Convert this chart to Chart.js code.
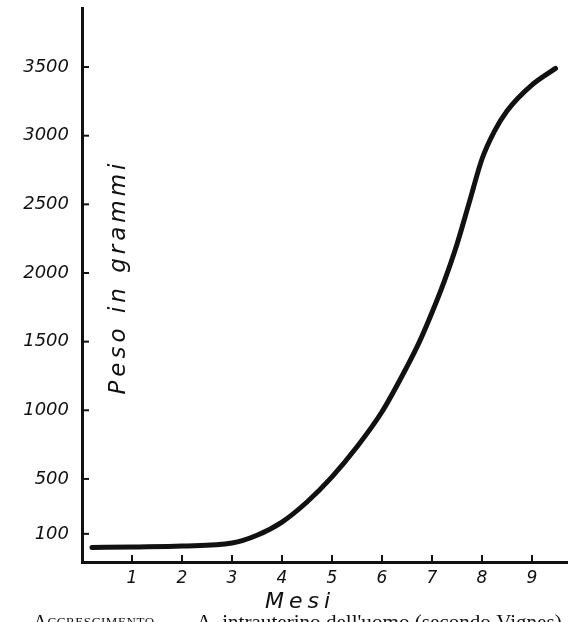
<!DOCTYPE html>
<html>
<head>
<meta charset="utf-8">
<script src="https://cdn.jsdelivr.net/npm/chart.js@4"></script>
<style>
  html, body { margin: 0; padding: 0; background: #fff; }
  #wrap { width: 571px; height: 622px; position: relative; }
</style>
</head>
<body>
<div id="wrap"><canvas id="c"></canvas></div>
<script>
// Dati (mesi / peso in grammi)
const mesi = [0.2, 1, 2, 3, 3.5, 4, 4.5, 5, 5.5, 6, 6.5, 6.75, 7, 7.25, 7.5, 7.75, 8, 8.25, 8.5, 9, 9.47];
const peso = [0, 5, 12, 33, 90, 186, 332, 515, 734, 989, 1318, 1500, 1712, 1945, 2210, 2520, 2830, 3033, 3180, 3370, 3490];
const xTicks = [1, 2, 3, 4, 5, 6, 7, 8, 9];
const yTicks = [100, 500, 1000, 1500, 2000, 2500, 3000, 3500];

const INK = '#111';
const FONT = '"DejaVu Sans", sans-serif';
const SERIF = '"Liberation Serif", serif';

// Tacche interne agli assi + testi (titoli e didascalia)
const decorPlugin = {
  id: 'decor',
  afterDraw(chart) {
    const { ctx, chartArea, scales } = chart;
    ctx.save();
    ctx.strokeStyle = INK;
    ctx.lineWidth = 2;
    yTicks.forEach(v => {
      const py = scales.y.getPixelForValue(v);
      ctx.beginPath();
      ctx.moveTo(chartArea.left, py);
      ctx.lineTo(chartArea.left + 7, py);
      ctx.stroke();
    });
    xTicks.forEach(v => {
      const px = scales.x.getPixelForValue(v);
      ctx.beginPath();
      ctx.moveTo(px, chartArea.bottom);
      ctx.lineTo(px, chartArea.bottom - 7);
      ctx.stroke();
    });

    ctx.fillStyle = INK;
    // titolo asse Y, dentro l'area del grafico
    ctx.save();
    ctx.translate(125, 277);
    ctx.rotate(-Math.PI / 2);
    ctx.font = 'italic 23px ' + FONT;
    ctx.letterSpacing = '4px';
    ctx.textAlign = 'center';
    ctx.fillText('Peso in grammi', 0, 0);
    ctx.restore();

    // titolo asse X
    ctx.font = 'italic 22px ' + FONT;
    ctx.letterSpacing = '5px';
    ctx.textAlign = 'center';
    ctx.fillText('Mesi', 300, 608);

    // didascalia (tagliata in basso)
    ctx.textAlign = 'left';
    const y = 629;
    ctx.letterSpacing = '0px';
    ctx.font = '20px ' + SERIF;
    ctx.fillText('A', 33, y);
    let x = 33 + ctx.measureText('A').width;
    ctx.font = '13px ' + SERIF;
    ctx.letterSpacing = '0.6px';
    ctx.fillText('CCRESCIMENTO.', x, y - 3);
    ctx.letterSpacing = '0px';
    ctx.font = '20px ' + SERIF;
    const rest = "— A. intrauterino dell'uomo (secondo Vignes).";
    const w = ctx.measureText(rest).width;
    const target = 567 - 170;
    ctx.save();
    ctx.translate(170, y);
    ctx.scale(target / w, 1);
    ctx.fillText(rest, 0, 0);
    ctx.restore();
    ctx.restore();
  }
};

new Chart(document.getElementById('c'), {
  type: 'line',
  data: {
    datasets: [{
      data: mesi.map((m, i) => ({ x: m, y: peso[i] })),
      borderColor: INK,
      borderWidth: 5,
      borderCapStyle: 'round',
      pointRadius: 0,
      cubicInterpolationMode: 'monotone',
      fill: false
    }]
  },
  options: {
    responsive: true,
    maintainAspectRatio: false,
    animation: false,
    layout: { padding: { top: 8, right: 4, left: 0, bottom: 0 } },
    plugins: { legend: { display: false }, tooltip: { enabled: false } },
    scales: {
      x: {
        type: 'linear',
        min: 0,
        max: 9.7,
        afterBuildTicks: s => { s.ticks = xTicks.map(v => ({ value: v })); },
        afterFit: s => { s.height = 60; s.paddingLeft = 0; s.paddingRight = 0; },
        grid: { display: false, drawTicks: false },
        border: { display: true, color: INK, width: 3 },
        ticks: {
          color: INK,
          padding: 6,
          font: { family: FONT, style: 'italic', size: 17 },
          callback: v => String(v)
        }
      },
      y: {
        type: 'linear',
        min: -105,
        max: 3930,
        afterBuildTicks: s => { s.ticks = yTicks.map(v => ({ value: v })); },
        afterFit: s => { s.width = 82; s.paddingTop = 0; s.paddingBottom = 0; },
        grid: { display: false, drawTicks: false },
        border: { display: true, color: INK, width: 3 },
        ticks: {
          color: INK,
          padding: 13,
          font: { family: FONT, style: 'italic', size: 18 },
          callback: v => String(v)
        }
      }
    }
  },
  plugins: [decorPlugin]
});
</script>
</body>
</html>
